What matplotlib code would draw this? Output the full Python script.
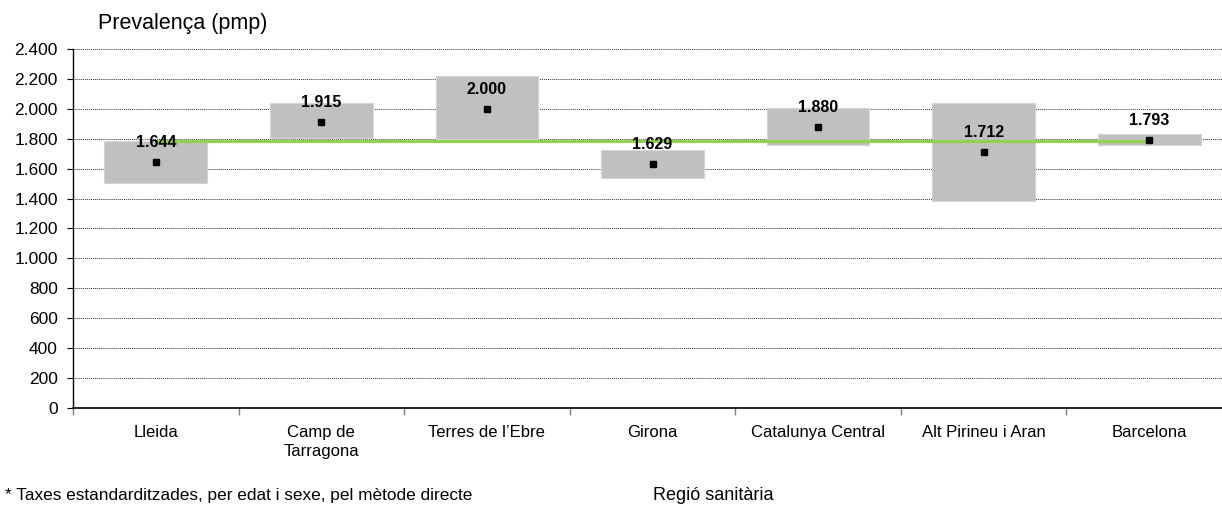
import matplotlib.pyplot as plt
from matplotlib.ticker import FuncFormatter

regions = ["Lleida", "Camp de\nTarragona", "Terres de l\u2019Ebre", "Girona",
           "Catalunya Central", "Alt Pirineu i Aran", "Barcelona"]
prevalence = [1644, 1915, 2000, 1629, 1880, 1712, 1793]
ci_low = [1506, 1802, 1798, 1540, 1758, 1386, 1756]
ci_high = [1785, 2037, 2219, 1725, 2007, 2041, 1834]
catalonia = 1788
y_ticks = list(range(0, 2401, 200))

plt.rcParams['font.family'] = ['Liberation Sans', 'DejaVu Sans']

fig = plt.figure(figsize=(12.22, 5.05), dpi=100)
ax = fig.add_axes([73 / 1222, 1 - 408 / 505, 1159 / 1222, 359 / 505])

x = list(range(len(regions)))
heights = [h - l for h, l in zip(ci_high, ci_low)]
ax.bar(x, heights, bottom=ci_low, width=0.62, color='#c0c0c0',
       edgecolor='#d6d6d6', linewidth=0.8, zorder=2)
ax.plot([x[0], x[-1]], [catalonia, catalonia], color='#92d050', lw=2.3, zorder=3)
ax.plot(x, prevalence, ls='none', marker='s', ms=4.5, color='black', zorder=4)

for xi, v in zip(x, prevalence):
    ax.annotate(f"{v / 1000:.3f}", (xi, v), xytext=(0, 14), textcoords='offset points',
                ha='center', va='center', fontsize=11.5, fontweight='bold', zorder=5)

ax.set_xlim(-0.5, len(regions) - 0.5)
ax.set_ylim(0, 2400)
ax.set_yticks(y_ticks)
ax.yaxis.set_major_formatter(FuncFormatter(lambda v, p: f"{int(v):,}".replace(",", ".")))
ax.yaxis.grid(True, color='#333333', lw=0.7, ls=(0, (1, 1)), zorder=0)
ax.set_axisbelow(True)

# category separators as tick marks
ax.set_xticks([i - 0.5 for i in range(len(regions))])
ax.set_xticklabels([])
ax.tick_params(axis='x', length=5, color='#808080', width=1)
ax.tick_params(axis='y', length=4, labelsize=12.5, pad=7)
for xi, name in zip(x, regions):
    ax.text(xi, -115, name, ha='center', va='top', fontsize=12, linespacing=1.3)

for s in ['top', 'right']:
    ax.spines[s].set_visible(False)
ax.spines['left'].set_linewidth(1)
ax.spines['bottom'].set_linewidth(1.2)

fig.text(98 / 1222, 1 - 23 / 505, "Prevalen\u00e7a (pmp)", fontsize=15.5, va='center', ha='left')
fig.text(713 / 1222, 1 - 495 / 505, "Regi\u00f3 sanit\u00e0ria", fontsize=13, va='center', ha='center')
fig.text(5 / 1222, 1 - 503 / 505, "* Taxes estandarditzades, per edat i sexe, pel m\u00e8tode directe",
         fontsize=12.4, va='bottom', ha='left')

fig.savefig("out.png", dpi=100)
